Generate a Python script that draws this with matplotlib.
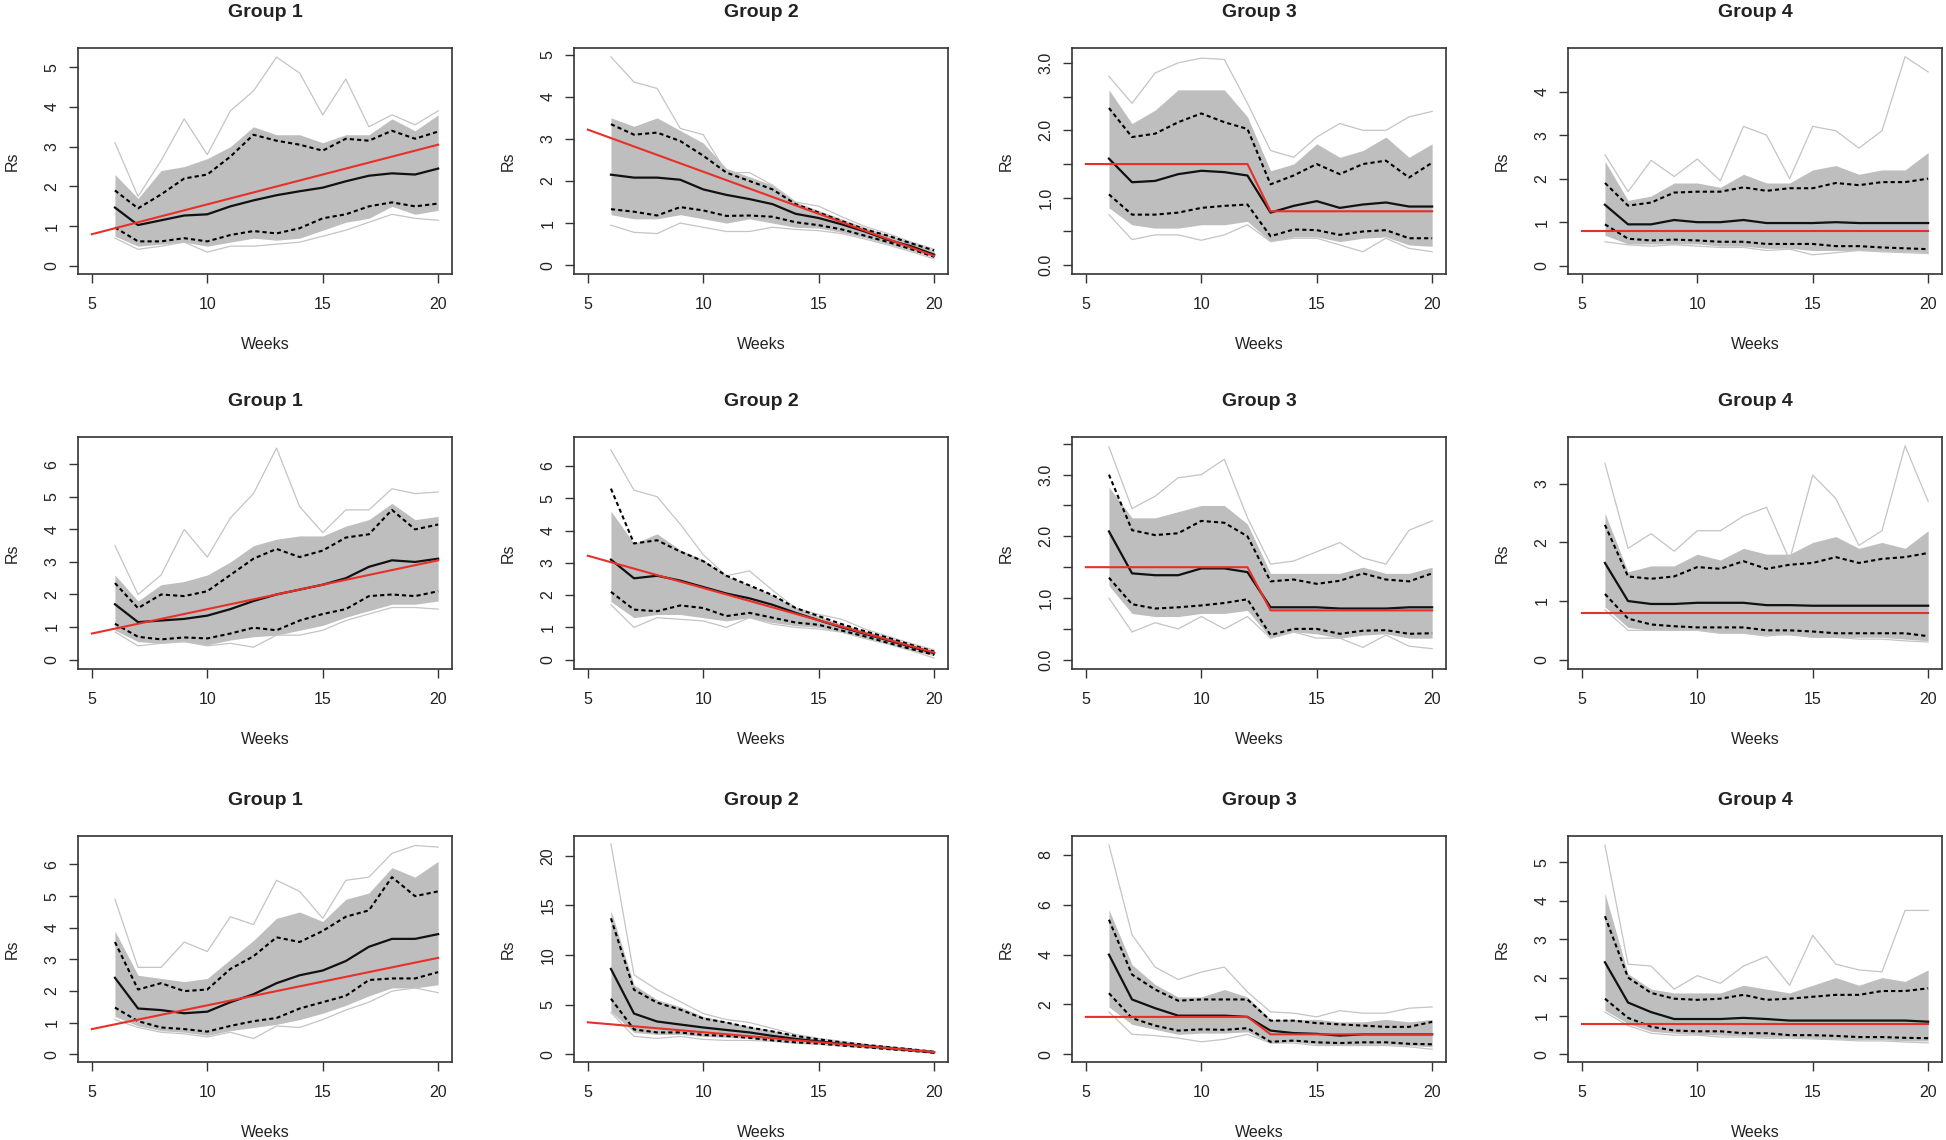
import matplotlib
matplotlib.use("Agg")
import matplotlib.pyplot as plt
import numpy as np

plt.rcParams['font.family'] = ['Liberation Sans', 'DejaVu Sans']

weeks = list(range(6, 21))
groups = ['Group 1', 'Group 2', 'Group 3', 'Group 4']

# true Rs per group (red line)
g1_true_x, g1_true_y = [5, 20], [0.8, 3.05]
g2_true_x, g2_true_y = [5, 20], [3.22, 0.22]
g3_true_x, g3_true_y = [5, 12, 13, 20], [1.5, 1.5, 0.8, 0.8]
g4_true_x, g4_true_y = [5, 20], [0.8, 0.8]

# ---- row 1 ----
r1g1_med = [1.47, 1.03, 1.15, 1.27, 1.3, 1.5, 1.65, 1.78, 1.88, 1.97, 2.13, 2.27, 2.33, 2.3, 2.45]
r1g1_qhi = [1.9, 1.45, 1.8, 2.2, 2.3, 2.75, 3.3, 3.15, 3.05, 2.9, 3.2, 3.15, 3.4, 3.2, 3.38]
r1g1_qlo = [0.97, 0.62, 0.62, 0.7, 0.62, 0.78, 0.88, 0.82, 0.95, 1.2, 1.3, 1.5, 1.6, 1.5, 1.57]
r1g1_bhi = [2.3, 1.7, 2.4, 2.5, 2.7, 3.0, 3.5, 3.3, 3.3, 3.1, 3.3, 3.3, 3.7, 3.4, 3.8]
r1g1_blo = [0.75, 0.5, 0.55, 0.6, 0.5, 0.6, 0.7, 0.65, 0.7, 0.9, 1.1, 1.2, 1.5, 1.3, 1.4]
r1g1_max = [3.1, 1.75, 2.65, 3.7, 2.8, 3.9, 4.4, 5.25, 4.85, 3.8, 4.7, 3.5, 3.8, 3.55, 3.9]
r1g1_min = [0.7, 0.42, 0.5, 0.6, 0.35, 0.5, 0.5, 0.55, 0.6, 0.75, 0.9, 1.1, 1.3, 1.2, 1.15]

r1g2_med = [2.15, 2.08, 2.08, 2.03, 1.8, 1.67, 1.57, 1.45, 1.22, 1.12, 0.97, 0.8, 0.6, 0.45, 0.25]
r1g2_qhi = [3.35, 3.1, 3.15, 2.95, 2.6, 2.2, 2.0, 1.8, 1.45, 1.25, 1.05, 0.85, 0.7, 0.52, 0.35]
r1g2_qlo = [1.33, 1.27, 1.18, 1.38, 1.3, 1.17, 1.18, 1.15, 1.02, 0.95, 0.85, 0.7, 0.55, 0.38, 0.2]
r1g2_bhi = [3.5, 3.3, 3.5, 3.2, 2.9, 2.3, 2.1, 1.9, 1.5, 1.3, 1.1, 0.9, 0.72, 0.55, 0.35]
r1g2_blo = [1.2, 1.1, 1.1, 1.2, 1.1, 1.0, 1.1, 1.0, 0.9, 0.88, 0.78, 0.65, 0.5, 0.35, 0.18]
r1g2_max = [4.95, 4.35, 4.2, 3.25, 3.1, 2.2, 2.2, 1.9, 1.5, 1.4, 1.15, 0.92, 0.75, 0.55, 0.38]
r1g2_min = [0.95, 0.78, 0.75, 1.0, 0.9, 0.8, 0.8, 0.9, 0.85, 0.82, 0.75, 0.62, 0.48, 0.32, 0.15]

r1g3_med = [1.58, 1.23, 1.25, 1.35, 1.4, 1.38, 1.33, 0.78, 0.88, 0.95, 0.85, 0.9, 0.93, 0.87, 0.87]
r1g3_qhi = [2.33, 1.9, 1.95, 2.12, 2.25, 2.12, 2.02, 1.2, 1.33, 1.5, 1.35, 1.5, 1.55, 1.3, 1.52]
r1g3_qlo = [1.05, 0.75, 0.75, 0.78, 0.85, 0.88, 0.9, 0.43, 0.53, 0.52, 0.45, 0.5, 0.52, 0.4, 0.4]
r1g3_bhi = [2.6, 2.1, 2.3, 2.6, 2.6, 2.6, 2.2, 1.4, 1.5, 1.8, 1.6, 1.7, 1.9, 1.6, 1.8]
r1g3_blo = [0.85, 0.6, 0.55, 0.55, 0.6, 0.6, 0.65, 0.35, 0.42, 0.42, 0.35, 0.4, 0.42, 0.3, 0.28]
r1g3_max = [2.8, 2.4, 2.85, 3.0, 3.07, 3.05, 2.4, 1.7, 1.6, 1.9, 2.1, 2.0, 2.0, 2.2, 2.28]
r1g3_min = [0.75, 0.38, 0.45, 0.45, 0.37, 0.45, 0.6, 0.35, 0.4, 0.4, 0.3, 0.2, 0.4, 0.25, 0.2]

r1g4_med = [1.4, 0.95, 0.95, 1.05, 1.0, 1.0, 1.05, 0.98, 0.98, 0.98, 1.0, 0.98, 0.98, 0.98, 0.98]
r1g4_qhi = [1.9, 1.38, 1.45, 1.68, 1.7, 1.7, 1.8, 1.72, 1.78, 1.78, 1.9, 1.85, 1.92, 1.92, 2.0]
r1g4_qlo = [0.95, 0.62, 0.58, 0.6, 0.58, 0.55, 0.55, 0.5, 0.5, 0.5, 0.45, 0.45, 0.42, 0.4, 0.38]
r1g4_bhi = [2.4, 1.5, 1.6, 1.9, 1.9, 1.8, 2.1, 1.9, 1.9, 2.2, 2.3, 2.1, 2.2, 2.2, 2.6]
r1g4_blo = [0.7, 0.5, 0.5, 0.5, 0.5, 0.45, 0.45, 0.4, 0.4, 0.35, 0.35, 0.35, 0.33, 0.32, 0.3]
r1g4_max = [2.55, 1.7, 2.42, 2.05, 2.45, 1.95, 3.2, 3.0, 2.0, 3.2, 3.1, 2.7, 3.1, 4.8, 4.45]
r1g4_min = [0.55, 0.48, 0.45, 0.48, 0.45, 0.42, 0.42, 0.35, 0.38, 0.25, 0.3, 0.35, 0.32, 0.3, 0.28]

# ---- row 2 ----
r2g1_med = [1.7, 1.15, 1.2, 1.25, 1.35, 1.55, 1.8, 2.0, 2.15, 2.3, 2.5, 2.85, 3.05, 3.0, 3.1]
r2g1_qhi = [2.35, 1.58, 2.0, 1.95, 2.1, 2.6, 3.1, 3.4, 3.15, 3.35, 3.75, 3.85, 4.6, 4.0, 4.15]
r2g1_qlo = [1.1, 0.7, 0.62, 0.68, 0.65, 0.8, 0.98, 0.9, 1.2, 1.4, 1.55, 1.95, 2.0, 1.95, 2.1]
r2g1_bhi = [2.6, 1.8, 2.3, 2.4, 2.6, 3.0, 3.5, 3.7, 3.8, 3.8, 4.1, 4.3, 4.8, 4.3, 4.4]
r2g1_blo = [0.9, 0.55, 0.5, 0.55, 0.45, 0.6, 0.7, 0.75, 0.9, 1.05, 1.3, 1.5, 1.7, 1.7, 1.8]
r2g1_max = [3.5, 2.0, 2.6, 4.0, 3.15, 4.35, 5.1, 6.5, 4.7, 3.9, 4.6, 4.6, 5.25, 5.1, 5.15]
r2g1_min = [0.85, 0.42, 0.5, 0.55, 0.42, 0.5, 0.38, 0.75, 0.75, 0.9, 1.2, 1.4, 1.6, 1.6, 1.55]

r2g2_med = [3.1, 2.52, 2.6, 2.45, 2.25, 2.05, 1.9, 1.7, 1.45, 1.22, 1.0, 0.8, 0.6, 0.4, 0.2]
r2g2_qhi = [5.3, 3.6, 3.7, 3.35, 3.05, 2.6, 2.3, 2.0, 1.6, 1.35, 1.1, 0.88, 0.68, 0.46, 0.25]
r2g2_qlo = [2.1, 1.55, 1.5, 1.68, 1.6, 1.35, 1.45, 1.3, 1.15, 1.08, 0.9, 0.72, 0.52, 0.33, 0.15]
r2g2_bhi = [4.6, 3.6, 3.9, 3.4, 3.1, 2.6, 2.3, 2.0, 1.6, 1.35, 1.1, 0.9, 0.7, 0.48, 0.28]
r2g2_blo = [1.8, 1.3, 1.4, 1.4, 1.3, 1.2, 1.3, 1.15, 1.05, 1.0, 0.85, 0.68, 0.5, 0.3, 0.12]
r2g2_max = [6.5, 5.25, 5.05, 4.2, 3.25, 2.6, 2.75, 2.15, 1.6, 1.4, 1.25, 0.95, 0.72, 0.5, 0.3]
r2g2_min = [1.7, 1.0, 1.3, 1.25, 1.2, 1.0, 1.3, 1.1, 1.0, 0.95, 0.85, 0.65, 0.48, 0.28, 0.05]

r2g3_med = [2.08, 1.4, 1.37, 1.37, 1.48, 1.48, 1.42, 0.85, 0.85, 0.85, 0.83, 0.83, 0.83, 0.85, 0.85]
r2g3_qhi = [3.0, 2.1, 2.02, 2.05, 2.25, 2.22, 2.0, 1.27, 1.3, 1.23, 1.28, 1.4, 1.3, 1.27, 1.4]
r2g3_qlo = [1.33, 0.9, 0.83, 0.85, 0.88, 0.92, 0.98, 0.4, 0.5, 0.5, 0.42, 0.47, 0.48, 0.42, 0.43]
r2g3_bhi = [2.8, 2.3, 2.3, 2.4, 2.5, 2.5, 2.2, 1.4, 1.4, 1.4, 1.4, 1.5, 1.4, 1.4, 1.5]
r2g3_blo = [1.2, 0.75, 0.7, 0.7, 0.75, 0.75, 0.8, 0.35, 0.45, 0.42, 0.35, 0.4, 0.42, 0.35, 0.35]
r2g3_max = [3.45, 2.45, 2.65, 2.95, 3.0, 3.25, 2.3, 1.55, 1.6, 1.75, 1.9, 1.65, 1.55, 2.1, 2.25]
r2g3_min = [1.0, 0.45, 0.6, 0.5, 0.7, 0.5, 0.7, 0.35, 0.45, 0.35, 0.35, 0.2, 0.4, 0.22, 0.18]

r2g4_med = [1.65, 1.0, 0.95, 0.95, 0.97, 0.97, 0.97, 0.93, 0.93, 0.92, 0.92, 0.92, 0.92, 0.92, 0.92]
r2g4_qhi = [2.3, 1.42, 1.38, 1.42, 1.58, 1.55, 1.68, 1.55, 1.62, 1.65, 1.75, 1.65, 1.72, 1.75, 1.82]
r2g4_qlo = [1.12, 0.7, 0.6, 0.57, 0.55, 0.55, 0.55, 0.5, 0.5, 0.48, 0.45, 0.45, 0.45, 0.45, 0.4]
r2g4_bhi = [2.5, 1.5, 1.6, 1.6, 1.8, 1.7, 1.9, 1.8, 1.8, 2.0, 2.1, 1.9, 2.0, 1.9, 2.2]
r2g4_blo = [0.9, 0.55, 0.5, 0.5, 0.5, 0.45, 0.45, 0.42, 0.42, 0.38, 0.38, 0.38, 0.38, 0.35, 0.32]
r2g4_max = [3.35, 1.9, 2.15, 1.85, 2.2, 2.2, 2.45, 2.6, 1.7, 3.15, 2.75, 1.95, 2.2, 3.65, 2.7]
r2g4_min = [0.85, 0.5, 0.5, 0.5, 0.5, 0.45, 0.45, 0.4, 0.45, 0.38, 0.38, 0.35, 0.35, 0.32, 0.3]

# ---- row 3 ----
r3g1_med = [2.42, 1.45, 1.4, 1.3, 1.35, 1.65, 1.9, 2.25, 2.5, 2.65, 2.95, 3.4, 3.65, 3.65, 3.8]
r3g1_qhi = [3.55, 2.05, 2.25, 2.0, 2.05, 2.7, 3.1, 3.7, 3.55, 3.9, 4.35, 4.55, 5.6, 5.0, 5.15]
r3g1_qlo = [1.48, 1.05, 0.85, 0.8, 0.72, 0.9, 1.05, 1.15, 1.45, 1.65, 1.85, 2.35, 2.4, 2.4, 2.6]
r3g1_bhi = [3.9, 2.5, 2.4, 2.3, 2.4, 3.0, 3.6, 4.3, 4.5, 4.2, 4.9, 5.1, 5.9, 5.6, 6.1]
r3g1_blo = [1.2, 0.9, 0.75, 0.7, 0.6, 0.75, 0.85, 0.95, 1.1, 1.3, 1.55, 1.85, 2.1, 2.1, 2.2]
r3g1_max = [4.9, 2.75, 2.75, 3.55, 3.25, 4.35, 4.1, 5.5, 5.15, 4.3, 5.5, 5.6, 6.35, 6.6, 6.55]
r3g1_min = [1.1, 0.85, 0.7, 0.65, 0.55, 0.7, 0.5, 0.9, 0.85, 1.1, 1.4, 1.65, 2.0, 2.1, 1.95]

r3g2_med = [8.6, 4.1, 3.3, 3.0, 2.7, 2.45, 2.2, 1.85, 1.55, 1.3, 1.05, 0.85, 0.62, 0.42, 0.2]
r3g2_qhi = [13.7, 6.5, 5.2, 4.5, 3.6, 3.2, 2.7, 2.3, 1.85, 1.5, 1.2, 0.95, 0.72, 0.5, 0.25]
r3g2_qlo = [5.6, 2.5, 2.2, 2.2, 1.95, 1.85, 1.65, 1.4, 1.2, 1.08, 0.88, 0.72, 0.52, 0.35, 0.15]
r3g2_bhi = [14.5, 7.0, 5.5, 4.8, 3.8, 3.3, 2.8, 2.4, 1.9, 1.55, 1.25, 1.0, 0.75, 0.52, 0.28]
r3g2_blo = [4.3, 2.2, 2.0, 2.0, 1.8, 1.7, 1.6, 1.35, 1.15, 1.02, 0.85, 0.68, 0.5, 0.32, 0.12]
r3g2_max = [21.2, 8.0, 6.5, 5.3, 4.1, 3.5, 3.2, 2.6, 2.0, 1.6, 1.3, 1.0, 0.78, 0.55, 0.3]
r3g2_min = [4.2, 1.8, 1.6, 1.8, 1.5, 1.4, 1.4, 1.3, 1.1, 1.0, 0.82, 0.65, 0.48, 0.3, 0.1]

r3g3_med = [4.0, 2.2, 1.85, 1.55, 1.55, 1.55, 1.5, 0.95, 0.85, 0.82, 0.75, 0.8, 0.8, 0.8, 0.8]
r3g3_qhi = [5.4, 3.2, 2.6, 2.15, 2.2, 2.2, 2.2, 1.35, 1.35, 1.25, 1.2, 1.15, 1.1, 1.1, 1.3]
r3g3_qlo = [2.45, 1.45, 1.15, 0.95, 1.0, 0.98, 1.05, 0.5, 0.55, 0.48, 0.45, 0.48, 0.48, 0.42, 0.4]
r3g3_bhi = [5.8, 3.6, 2.8, 2.3, 2.3, 2.6, 2.3, 1.4, 1.4, 1.4, 1.3, 1.3, 1.4, 1.3, 1.4]
r3g3_blo = [1.9, 1.2, 1.0, 0.8, 0.85, 0.85, 0.9, 0.45, 0.5, 0.4, 0.38, 0.4, 0.4, 0.35, 0.3]
r3g3_max = [8.4, 4.8, 3.5, 3.0, 3.3, 3.5, 2.5, 1.7, 1.65, 1.5, 1.75, 1.65, 1.65, 1.85, 1.9]
r3g3_min = [1.7, 0.8, 0.75, 0.65, 0.5, 0.6, 0.8, 0.45, 0.45, 0.35, 0.35, 0.35, 0.35, 0.3, 0.2]

r3g4_med = [2.4, 1.35, 1.1, 0.92, 0.92, 0.92, 0.95, 0.92, 0.88, 0.88, 0.88, 0.88, 0.88, 0.88, 0.85]
r3g4_qhi = [3.6, 2.0, 1.6, 1.45, 1.42, 1.45, 1.55, 1.42, 1.45, 1.5, 1.55, 1.55, 1.65, 1.65, 1.72]
r3g4_qlo = [1.45, 0.95, 0.72, 0.62, 0.6, 0.6, 0.55, 0.55, 0.5, 0.5, 0.48, 0.45, 0.45, 0.43, 0.42]
r3g4_bhi = [4.2, 2.1, 1.7, 1.6, 1.6, 1.6, 1.8, 1.7, 1.6, 1.8, 2.0, 1.8, 2.0, 1.9, 2.2]
r3g4_blo = [1.15, 0.8, 0.6, 0.55, 0.52, 0.5, 0.48, 0.45, 0.45, 0.42, 0.4, 0.38, 0.38, 0.35, 0.35]
r3g4_max = [5.45, 2.35, 2.3, 1.7, 2.05, 1.85, 2.3, 2.55, 1.8, 3.1, 2.35, 2.2, 2.15, 3.75, 3.75]
r3g4_min = [1.1, 0.75, 0.55, 0.5, 0.5, 0.45, 0.45, 0.42, 0.42, 0.4, 0.38, 0.35, 0.35, 0.32, 0.3]

# y axis setup per panel
ylims = [[(-0.2, 5.48), (-0.21, 5.16), (-0.13, 3.22), (-0.19, 5.0)],
         [(-0.29, 6.84), (-0.29, 6.9), (-0.15, 3.61), (-0.16, 3.8)],
         [(-0.24, 6.9), (-0.78, 22.0), (-0.31, 8.76), (-0.2, 5.69)]]
yticks = [[np.arange(0, 6), np.arange(0, 6), np.arange(0, 3.01, 0.5), np.arange(0, 5)],
          [np.arange(0, 7), np.arange(0, 7), np.arange(0, 3.51, 0.5), np.arange(0, 4)],
          [np.arange(0, 7), np.arange(0, 21, 5), np.arange(0, 9, 2), np.arange(0, 6)]]

truths = [(g1_true_x, g1_true_y), (g2_true_x, g2_true_y),
          (g3_true_x, g3_true_y), (g4_true_x, g4_true_y)]

panels = [
    [(r1g1_med, r1g1_qhi, r1g1_qlo, r1g1_bhi, r1g1_blo, r1g1_max, r1g1_min),
     (r1g2_med, r1g2_qhi, r1g2_qlo, r1g2_bhi, r1g2_blo, r1g2_max, r1g2_min),
     (r1g3_med, r1g3_qhi, r1g3_qlo, r1g3_bhi, r1g3_blo, r1g3_max, r1g3_min),
     (r1g4_med, r1g4_qhi, r1g4_qlo, r1g4_bhi, r1g4_blo, r1g4_max, r1g4_min)],
    [(r2g1_med, r2g1_qhi, r2g1_qlo, r2g1_bhi, r2g1_blo, r2g1_max, r2g1_min),
     (r2g2_med, r2g2_qhi, r2g2_qlo, r2g2_bhi, r2g2_blo, r2g2_max, r2g2_min),
     (r2g3_med, r2g3_qhi, r2g3_qlo, r2g3_bhi, r2g3_blo, r2g3_max, r2g3_min),
     (r2g4_med, r2g4_qhi, r2g4_qlo, r2g4_bhi, r2g4_blo, r2g4_max, r2g4_min)],
    [(r3g1_med, r3g1_qhi, r3g1_qlo, r3g1_bhi, r3g1_blo, r3g1_max, r3g1_min),
     (r3g2_med, r3g2_qhi, r3g2_qlo, r3g2_bhi, r3g2_blo, r3g2_max, r3g2_min),
     (r3g3_med, r3g3_qhi, r3g3_qlo, r3g3_bhi, r3g3_blo, r3g3_max, r3g3_min),
     (r3g4_med, r3g4_qhi, r3g4_qlo, r3g4_bhi, r3g4_blo, r3g4_max, r3g4_min)],
]

W, H = 1946, 1140
col_left = [78, 574, 1072, 1568]
ax_w = 374
row_top = [48, 437, 836]
row_bot = [274, 669, 1062]

GRAY = '#bebebe'
TXT = '#222222'

fig = plt.figure(figsize=(W / 100, H / 100), dpi=100)

for r in range(3):
    for c in range(4):
        med, qhi, qlo, bhi, blo, smax, smin = panels[r][c]
        ax = fig.add_axes([col_left[c] / W, 1 - row_bot[r] / H,
                           ax_w / W, (row_bot[r] - row_top[r]) / H])
        ax.fill_between(weeks, blo, bhi, color=GRAY, lw=0)
        ax.plot(weeks, smax, color='#c4c4c4', lw=0.9)
        ax.plot(weeks, smin, color='#c4c4c4', lw=0.9)
        ax.plot(weeks, qhi, color='black', lw=1.5, ls=(0, (2, 1.5)))
        ax.plot(weeks, qlo, color='black', lw=1.5, ls=(0, (2, 1.5)))
        ax.plot(weeks, med, color='#111111', lw=1.6)
        tx, ty = truths[c]
        ax.plot(tx, ty, color='#e8302a', lw=1.5)

        ax.set_xlim(4.4, 20.6)
        ax.set_ylim(*ylims[r][c])
        ax.set_xticks([5, 10, 15, 20])
        ticks = yticks[r][c]
        ax.set_yticks(ticks)
        if c == 2 and r < 2:
            labels = ['%.1f' % t if abs(t - round(t)) < 1e-9 else '' for t in ticks]
        else:
            labels = ['%d' % t for t in ticks]
        ax.set_yticklabels(labels, rotation=90, va='center')
        ax.tick_params(axis='both', direction='out', length=6.5, width=1.0,
                       colors='#333333', labelcolor=TXT, labelsize=11.5)
        ax.tick_params(axis='x', pad=10)
        ax.tick_params(axis='y', pad=7)
        for s in ax.spines.values():
            s.set_linewidth(1.2)
            s.set_color('#333333')
        ax.set_title(groups[c], fontsize=14, fontweight='bold', color=TXT, pad=22)
        ax.set_xlabel('Weeks', fontsize=11.5, color=TXT, labelpad=18)
        ax.set_ylabel('Rs', fontsize=11.5, color=TXT, labelpad=18)

fig.savefig('out.png', dpi=100, facecolor='white')
